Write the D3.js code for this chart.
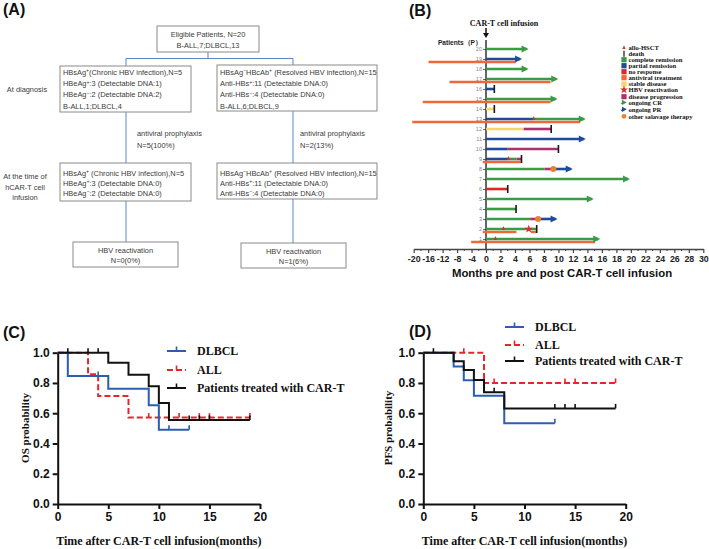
<!DOCTYPE html>
<html><head><meta charset="utf-8">
<script src="https://cdn.jsdelivr.net/npm/d3@7"></script>
<style>body{margin:0;background:#fff;} svg{display:block}</style>
</head><body>
<svg id="c" width="709" height="549"></svg>
<script>
// ---------------- DATA ----------------
// Panel A flow chart text
const flowTop = ["Eligible Patients, N=20", "B-ALL,7;DLBCL,13"];
const chronicAtDx = ["HBsAg^+(Chronic HBV infection),N=5", "HBeAg^+:3 (Detectable DNA:1)", "HBeAg^-:2 (Detectable DNA:2)", "B-ALL,1;DLBCL,4"];
const resolvedAtDx = ["HBsAg^-HBcAb^+ (Resolved HBV infection),N=15", "Anti-HBs^+:11 (Detectable DNA:0)", "Anti-HBs^-:4 (Detectable DNA:0)", "B-ALL,6;DLBCL,9"];
const chronicAtInf = ["HBsAg^+ (Chronic HBV infection),N=5", "HBeAg^+:3 (Detectable DNA:0)", "HBeAg^-:2 (Detectable DNA:0)"];
const resolvedAtInf = ["HBsAg^-HBcAb^+ (Resolved HBV infection),N=15", "Anti-HBs^+:11 (Detectable DNA:0)", "Anti-HBs^-:4 (Detectable DNA:0)"];
const prophylaxisLeft = ["antiviral prophylaxis", "N=5(100%)"];
const prophylaxisRight = ["antiviral prophylaxis", "N=2(13%)"];
const reactivationLeft = ["HBV reactivation", "N=0(0%)"];
const reactivationRight = ["HBV reactivation", "N=1(6%)"];
const stageLabels = [["At diagnosis"], ["At the time of", "hCAR-T cell", "infusion"]];

// Panel B swimmer plot
const patientIds = d3.range(1, 21);
const monthTicks = [-20,-16,-12,-8,-4,0,2,4,6,8,10,12,14,16,18,20,22,24,26,28,30];
const responseSegments = [
  [1,0,15.5,"CR"],
  [2,0,6.9,"CR"],
  [3,0,6.1,"CR"],[3,6.1,7.2,"PD"],[3,7.2,9.6,"PR"],
  [4,0,4.15,"CR"],
  [5,0,14.6,"CR"],
  [6,0,3.0,"NR"],
  [7,0,19.6,"CR"],
  [8,0,8.1,"CR"],[8,8.1,9.3,"PD"],[8,9.3,11.7,"PR"],
  [9,0,3.1,"PR"],[9,3.1,4.2,"CR"],[9,4.2,4.9,"PD"],
  [10,0,3.0,"PR"],[10,3.0,10.0,"PD"],
  [11,0,13.5,"PR"],
  [12,0,5.2,"SD"],[12,5.2,9.0,"PD"],
  [13,0,6.6,"PR"],[13,6.6,13.5,"CR"],
  [14,0,1.15,"SD"],
  [15,0,9.6,"CR"],
  [16,0,1.15,"PR"],
  [17,0,9.7,"CR"],
  [18,0,5.6,"CR"],
  [19,0,4.7,"PR"],
  [20,0,5.6,"CR"]
];
const antiviralCourses = [[1,-4.1,15.05],[2,-0.9,4.2],[2,6.2,6.9],[9,-0.9,4.8],[13,-20.4,13.0],[15,-17.5,8.9],[17,-10.1,8.9],[19,-15.9,4.1]];
const deaths = [[2,7.0],[4,4.15],[6,3.0],[9,4.9],[10,10.0],[12,9.0],[14,1.15],[16,1.15]];
const ongoing = [[1,15.5,"CR"],[3,9.6,"PR"],[5,14.6,"CR"],[7,19.6,"CR"],[8,11.7,"PR"],[11,13.5,"PR"],[13,13.5,"CR"],[15,9.6,"CR"],[17,9.7,"CR"],[18,5.6,"CR"],[19,4.7,"PR"],[20,5.6,"CR"]];
const alloHSCT = [[1,1.3],[2,2.4],[9,3.1],[13,6.6]];
const hbvReactivation = [[2,5.9]];
const salvageTherapy = [[3,7.2],[8,9.3]];
const legendB = ["allo-HSCT","death","complete remission","partial remission","no response","antiviral treatment","stable disease","HBV reactivation","disease progression","ongoing CR","ongoing PR","other salavage therapy"];

// Panels C & D Kaplan-Meier
const kmGroups = ["DLBCL", "ALL", "Patients treated with CAR-T"];
const probTicks = [0, 0.2, 0.4, 0.6, 0.8, 1.0];
const timeTicks = [0, 5, 10, 15, 20];
const osDrops = {
  "DLBCL": [[1,0.846],[5,0.762],[9,0.653],[10,0.490]],
  "ALL": [[3,0.857],[4,0.714],[7,0.571]],
  "Patients treated with CAR-T": [[5,0.933],[7,0.855],[9,0.778],[10,0.667],[11,0.556]]
};
const osEnd = {"DLBCL":13, "ALL":19, "Patients treated with CAR-T":19};
const osCensor = {"DLBCL":[4,11,13], "ALL":[9,12,14,15,19], "Patients treated with CAR-T":[1,3,4,13,14,15,19]};
const pfsDrops = {
  "DLBCL": [[3,0.909],[4,0.818],[5,0.716],[8,0.533]],
  "ALL": [[6,0.80]],
  "Patients treated with CAR-T": [[3,0.944],[4,0.885],[5,0.82],[6,0.738],[8,0.632]]
};
const pfsEnd = {"DLBCL":13, "ALL":19, "Patients treated with CAR-T":19};
const pfsCensor = {"DLBCL":[13], "ALL":[4,7,14,15,19], "Patients treated with CAR-T":[1,7,13,14,15,19]};

// ---------------- DRAW ----------------
const svg = d3.select("#c");
const SANS = "'Liberation Sans', Arial, sans-serif";
const SERIF = "'Liberation Serif', 'Times New Roman', serif";

function panelLabel(x, y, t) {
  svg.append("text").attr("x", x).attr("y", y).attr("font-family", SANS)
    .attr("font-weight", "bold").attr("font-size", 16).attr("fill", "#111").text(t);
}
panelLabel(3, 15, "(A)");
panelLabel(409, 16, "(B)");
panelLabel(3, 338, "(C)");
panelLabel(409, 337, "(D)");

// ---- Panel A ----
const A = svg.append("g").attr("font-family", SANS).attr("font-size", 7.4).attr("fill", "#3a3a3a");
function rich(parent, x, y, str, anchor) {
  const t = parent.append("text").attr("x", x).attr("y", y).attr("text-anchor", anchor || "start");
  let raised = false;
  str.split(/(\^[+-])/).forEach(p => {
    if (!p) return;
    if (p[0] === "^") {
      t.append("tspan").attr("dy", raised ? 0 : -2.6).attr("font-size", 5.2).text(p[1] === "+" ? "+" : "\u2212");
      raised = true;
    } else {
      t.append("tspan").attr("dy", raised ? 2.6 : 0).text(p);
      raised = false;
    }
  });
  return t;
}
function box(x, y, w, h, lines, firstBase, step, align) {
  A.append("rect").attr("x", x).attr("y", y).attr("width", w).attr("height", h)
    .attr("fill", "#fff").attr("stroke", "#8a8a8a").attr("stroke-width", 1);
  lines.forEach((l, i) => {
    if (align === "middle") rich(A, x + w / 2, firstBase + i * step, l, "middle");
    else rich(A, x + 3, firstBase + i * step, l, "start");
  });
}
const conn = A.append("g").attr("stroke", "#5b87c6").attr("stroke-width", 1).attr("fill", "none");
conn.append("path").attr("d", "M208,52V58.5M126,66V58.5H293V66");
conn.append("path").attr("d", "M126,112V163M293,111V163");
conn.append("path").attr("d", "M126,201V242M293,199V243");
box(157, 26, 102, 26, flowTop, 37, 10.5, "middle");
box(60, 66, 131, 46, chronicAtDx, 75, 11.2);
box(217, 65, 160, 46, resolvedAtDx, 75, 11.2);
box(60, 163, 131, 38, chronicAtInf, 176, 10);
box(217, 163, 160, 36, resolvedAtInf, 176, 10);
box(73, 242, 105, 25, reactivationLeft, 253, 10, "middle");
box(241, 243, 105, 25, reactivationRight, 254, 10, "middle");
prophylaxisLeft.forEach((l, i) => rich(A, 137, 136 + i * 12, l));
prophylaxisRight.forEach((l, i) => rich(A, 300, 136 + i * 12, l));
stageLabels[0].forEach((l, i) => rich(A, 27, 92, l, "middle"));
stageLabels[1].forEach((l, i) => rich(A, 25, 179 + i * 10.5, l, "middle"));

// ---- Panel B ----
const B = svg.append("g");
const bx = d3.scaleLinear().domain([-20, 0, 30]).range([413.7, 486, 703.3]);
const by = d3.scaleLinear().domain([0, 20]).range([249, 49]);
const colB = {CR: "#3a9a46", PR: "#1f4b9c", NR: "#d42a2a", AV: "#f06838", SD: "#f4d56a", PD: "#b0306e", red: "#e0262e", salv: "#e9832a"};

// header
B.append("text").attr("x", 504).attr("y", 26).attr("text-anchor", "middle")
  .attr("font-family", SERIF).attr("font-weight", "bold").attr("font-size", 8).attr("fill", "#111").text("CAR-T cell infusion");
B.append("line").attr("x1", bx(0)).attr("x2", bx(0)).attr("y1", 28).attr("y2", 34).attr("stroke", "#111").attr("stroke-width", 1.5);
B.append("path").attr("d", `M${bx(0)-3},33L${bx(0)+3},33L${bx(0)},38Z`).attr("fill", "#111");
B.append("text").attr("x", 482).attr("y", 45).attr("text-anchor", "end")
  .attr("font-family", SANS).attr("font-weight", "bold").attr("font-size", 6.6).attr("fill", "#222").text("Patients（P）");

// y axis
const yAxisB = B.append("g").attr("transform", `translate(${bx(0)},0)`)
  .call(d3.axisLeft(by).tickValues(patientIds).tickSize(3).tickPadding(1).tickSizeOuter(0));
yAxisB.select(".domain").remove();
yAxisB.selectAll(".tick line").attr("stroke", "#444").attr("stroke-width", 0.8);
yAxisB.selectAll("text").attr("font-family", SANS).attr("font-size", 5.6).attr("fill", "#888");
B.append("line").attr("x1", bx(0)).attr("x2", bx(0)).attr("y1", 40).attr("y2", by(0)).attr("stroke", "#333").attr("stroke-width", 1.5);

// antiviral courses (below the main bar)
B.selectAll(".av").data(antiviralCourses).enter().append("line")
  .attr("x1", d => bx(d[1])).attr("x2", d => bx(d[2]))
  .attr("y1", d => by(d[0]) + 3).attr("y2", d => by(d[0]) + 3)
  .attr("stroke", colB.AV).attr("stroke-width", 2.4);
// response segments
B.selectAll(".seg").data(responseSegments).enter().append("line")
  .attr("x1", d => bx(d[1])).attr("x2", d => bx(d[2]))
  .attr("y1", d => by(d[0])).attr("y2", d => by(d[0]))
  .attr("stroke", d => colB[d[3]]).attr("stroke-width", 2.6);
// ongoing arrows
B.selectAll(".arr").data(ongoing).enter().append("path")
  .attr("d", d => { const x = bx(d[1]) + 2, y = by(d[0]); return `M${x},${y}L${x-7},${y-3.4}L${x-7},${y+3.4}Z`; })
  .attr("fill", d => colB[d[2]]);
// deaths
B.selectAll(".death").data(deaths).enter().append("line")
  .attr("x1", d => bx(d[1])).attr("x2", d => bx(d[1]))
  .attr("y1", d => by(d[0]) - 4).attr("y2", d => by(d[0]) + 4)
  .attr("stroke", "#1a1a1a").attr("stroke-width", 1.6);
// allo-HSCT
B.selectAll(".allo").data(alloHSCT).enter().append("path")
  .attr("d", d => { const x = bx(d[1]), y = by(d[0]); return `M${x},${y-3}L${x+1.6},${y+1}L${x-1.6},${y+1}Z`; })
  .attr("fill", colB.red);
// HBV reactivation
B.selectAll(".hbv").data(hbvReactivation).enter().append("path")
  .attr("transform", d => `translate(${bx(d[1])},${by(d[0])})`)
  .attr("d", d3.symbol(d3.symbolStar, 22)).attr("fill", colB.red);
// salvage
B.selectAll(".salv").data(salvageTherapy).enter().append("circle")
  .attr("cx", d => bx(d[1])).attr("cy", d => by(d[0])).attr("r", 3)
  .attr("fill", colB.salv);

// x axis
const minorTicks = [-18,-14,-10,-6,-2,1,3,5,7,9,11,13,15,17,19,21,23,25,27,29];
const xaB = B.append("g").attr("transform", `translate(0,${by(0)})`)
  .call(d3.axisBottom(bx).tickValues(monthTicks).tickFormat(d => d).tickSize(4).tickPadding(3).tickSizeOuter(0));
xaB.select(".domain").attr("stroke", "#444").attr("stroke-width", 1.6);
xaB.selectAll(".tick line").attr("stroke", "#444").attr("stroke-width", 1.2);
xaB.selectAll("text").attr("font-family", SANS).attr("font-weight", "bold").attr("font-size", 8.8).attr("fill", "#222");
B.selectAll(".minor").data(minorTicks).enter().append("line")
  .attr("x1", d => bx(d)).attr("x2", d => bx(d)).attr("y1", by(0)).attr("y2", by(0) + 2)
  .attr("stroke", "#444").attr("stroke-width", 1);
B.append("text").attr("x", 562).attr("y", 277).attr("text-anchor", "middle")
  .attr("font-family", SANS).attr("font-weight", "bold").attr("font-size", 11.4).attr("fill", "#111")
  .text("Months pre and post CAR-T cell infusion");

// legend B
const LG = B.append("g").attr("font-family", SERIF).attr("font-weight", "bold").attr("font-size", 6.6).attr("fill", "#111");
const lgY = [47.7, 53.7, 59.7, 65.7, 71.7, 77.7, 84, 89.8, 96.7, 102.4, 109.3, 116.3];
const lx = 624;
legendB.forEach((name, i) => {
  const y = lgY[i];
  LG.append("text").attr("x", 628.5).attr("y", y + 2.3).text(name);
  const sq = {2: colB.CR, 3: colB.PR, 4: colB.NR, 5: colB.AV, 6: colB.SD, 8: colB.PD};
  if (sq[i]) LG.append("rect").attr("x", lx - 2.6).attr("y", y - 2.6).attr("width", 5.2).attr("height", 5.2).attr("fill", sq[i]);
  if (i === 0) LG.append("path").attr("d", `M${lx},${y-2.4}L${lx+1.6},${y+1.4}L${lx-1.6},${y+1.4}Z`).attr("fill", colB.red);
  if (i === 1) LG.append("line").attr("x1", lx).attr("x2", lx).attr("y1", y - 3).attr("y2", y + 3).attr("stroke", "#111").attr("stroke-width", 1.2);
  if (i === 7) LG.append("path").attr("transform", `translate(${lx},${y})`).attr("d", d3.symbol(d3.symbolStar, 20)).attr("fill", colB.red);
  if (i === 9 || i === 10) {
    const c = i === 9 ? colB.CR : colB.PR;
    LG.append("line").attr("x1", lx - 3).attr("x2", lx).attr("y1", y + 1).attr("y2", y + 1).attr("stroke", c).attr("stroke-width", 1.2);
    LG.append("path").attr("d", `M${lx-2},${y-2.6}L${lx+2.8},${y}L${lx-2},${y+2.6}Z`).attr("fill", c);
  }
  if (i === 11) LG.append("circle").attr("cx", lx).attr("cy", y).attr("r", 2.4).attr("fill", colB.salv);
});

// ---- Panels C & D ----
const kmColor = {"DLBCL": "#2b5db3", "ALL": "#e6262b", "Patients treated with CAR-T": "#111"};
const kmDash = {"DLBCL": null, "ALL": "6,3", "Patients treated with CAR-T": null};

function kmPanel(x0, x1, drops, ends, censors, yTitle, yTitleX, legX, legY) {
  const g = svg.append("g");
  const x = d3.scaleLinear().domain([0, 20]).range([x0, x1]);
  const y = d3.scaleLinear().domain([0, 1]).range([504, 352.7]);
  const ya = g.append("g").attr("transform", `translate(${x0},0)`)
    .call(d3.axisLeft(y).tickValues(probTicks).tickFormat(d3.format(".1f")).tickSize(5).tickPadding(3).tickSizeOuter(0));
  const xa = g.append("g").attr("transform", `translate(0,504)`)
    .call(d3.axisBottom(x).tickValues(timeTicks).tickSize(5).tickPadding(3).tickSizeOuter(0));
  [ya, xa].forEach(a => {
    a.select(".domain").attr("stroke", "#111").attr("stroke-width", 2);
    a.selectAll(".tick line").attr("stroke", "#111").attr("stroke-width", 2);
    a.selectAll("text").attr("font-family", SANS).attr("font-weight", "bold").attr("font-size", 12).attr("fill", "#111");
  });
  g.append("text").attr("x", (x0 + x1) / 2).attr("y", 544.5).attr("text-anchor", "middle")
    .attr("font-family", SERIF).attr("font-weight", "bold").attr("font-size", 12).attr("fill", "#111")
    .text("Time after CAR-T cell infusion(months)");
  g.append("text").attr("transform", `translate(${yTitleX},428) rotate(-90)`).attr("text-anchor", "middle")
    .attr("font-family", SERIF).attr("font-weight", "bold").attr("font-size", 11).attr("fill", "#111").text(yTitle);

  const line = d3.line().x(d => x(d[0])).y(d => y(d[1])).curve(d3.curveStepAfter);
  const order = ["ALL", "DLBCL", "Patients treated with CAR-T"];
  order.forEach(k => {
    const pts = [[0, 1]].concat(drops[k]);
    const last = pts[pts.length - 1][1];
    pts.push([ends[k], last]);
    g.append("path").attr("d", line(pts)).attr("fill", "none").attr("stroke", kmColor[k])
      .attr("stroke-width", 2).attr("stroke-dasharray", kmDash[k]);
    const surv = t => { let s = 1; drops[k].forEach(d => { if (d[0] <= t) s = d[1]; }); return s; };
    g.selectAll(null).data(censors[k]).enter().append("line")
      .attr("x1", t => x(t)).attr("x2", t => x(t))
      .attr("y1", t => y(surv(t))).attr("y2", t => y(surv(t)) - 4.5)
      .attr("stroke", kmColor[k]).attr("stroke-width", 1.6);
  });
  kmGroups.forEach((k, i) => {
    const ly = legY[i];
    g.append("line").attr("x1", legX).attr("x2", legX + 19).attr("y1", ly).attr("y2", ly)
      .attr("stroke", kmColor[k]).attr("stroke-width", 2).attr("stroke-dasharray", kmDash[k]);
    g.append("line").attr("x1", legX + 9.5).attr("x2", legX + 9.5).attr("y1", ly).attr("y2", ly - 4.5)
      .attr("stroke", kmColor[k]).attr("stroke-width", 1.6);
    g.append("text").attr("x", legX + 30).attr("y", ly + 4).attr("font-family", SERIF).attr("font-weight", "bold")
      .attr("font-size", 12).attr("fill", "#111").text(k);
  });
}
kmPanel(57.7, 260, osDrops, osEnd, osCensor, "OS probability", 29, 167, [351, 370, 388]);
kmPanel(423.3, 625.7, pfsDrops, pfsEnd, pfsCensor, "PFS probability", 392, 505, [327, 345, 361]);
</script></body></html>
